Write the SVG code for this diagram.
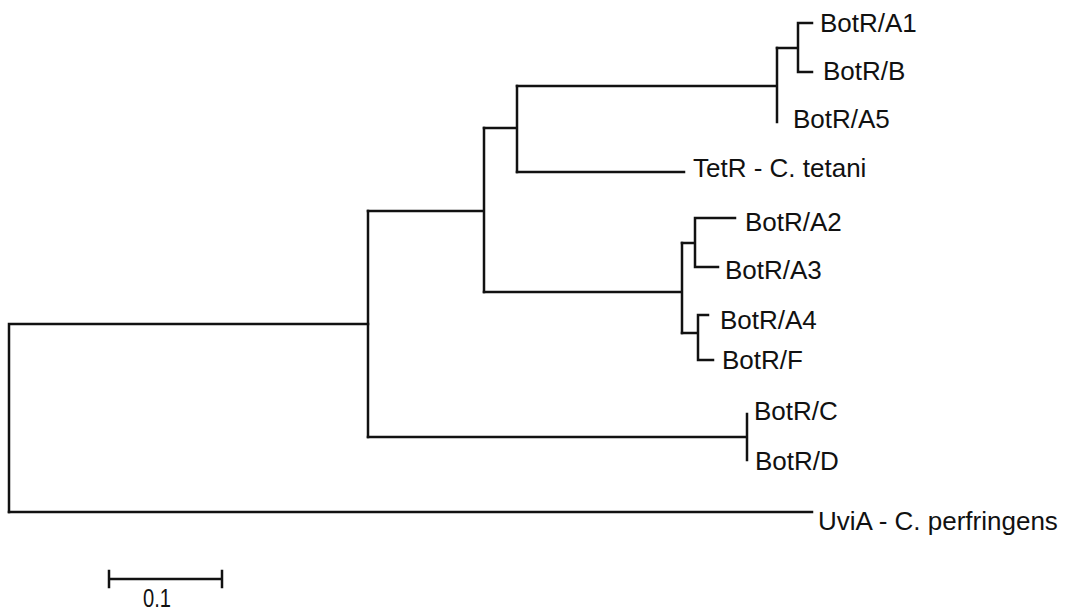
<svg xmlns="http://www.w3.org/2000/svg" width="1071" height="614" viewBox="0 0 1071 614">
<style>
.br{fill:none;stroke:#111;stroke-width:2.5;stroke-linecap:square}
.lb{font-family:"Liberation Sans",Arial,sans-serif;font-size:26px;fill:#111}
</style>
<rect width="1071" height="614" fill="#fff"/>
<g id="connectors" class="br">
<path d="M9,512 V324 H368"/>
<path d="M9,512 H812"/>
<path d="M368,211 V437"/>
<path d="M368,437 H747 M747,414 V460"/>
<path d="M368,211 H484 M484,128 V292"/>
<path d="M484,128 H517 M517,86 V172"/>
<path d="M517,172 H684"/>
<path d="M517,86 H777 M777,48 V122"/>
<path d="M777,48 H798 M798,23 V72 M798,23 H812 M798,72 H812"/>
<path d="M484,292 H682 M682,243 V333"/>
<path d="M682,243 H695 M695,218 V267 M695,218 H735 M695,267 H718"/>
<path d="M682,333 H698 M698,315 V360 M698,315 H708 M698,360 H713"/>
</g>
<g id="n-A1"><text class="lb" x="820" y="32">BotR/A1</text></g>
<g id="n-B"><text class="lb" x="823" y="80">BotR/B</text></g>
<g id="n-A5"><text class="lb" x="793" y="128">BotR/A5</text></g>
<g id="n-TetR"><text class="lb" x="693" y="177">TetR - C. tetani</text></g>
<g id="n-A2"><text class="lb" x="745" y="231">BotR/A2</text></g>
<g id="n-A3"><text class="lb" x="725" y="279">BotR/A3</text></g>
<g id="n-A4"><text class="lb" x="720" y="329">BotR/A4</text></g>
<g id="n-F"><text class="lb" x="722" y="369">BotR/F</text></g>
<g id="n-C"><text class="lb" x="754" y="420">BotR/C</text></g>
<g id="n-D"><text class="lb" x="755" y="470">BotR/D</text></g>
<g id="n-UviA"><text class="lb" x="818" y="530">UviA - C. perfringens</text></g>
<g id="scale">
<path class="br" d="M109,579 H222 M109,571 V587 M222,571 V587"/>
<text class="lb" x="143" y="607" textLength="28" lengthAdjust="spacingAndGlyphs">0.1</text>
</g>
</svg>
